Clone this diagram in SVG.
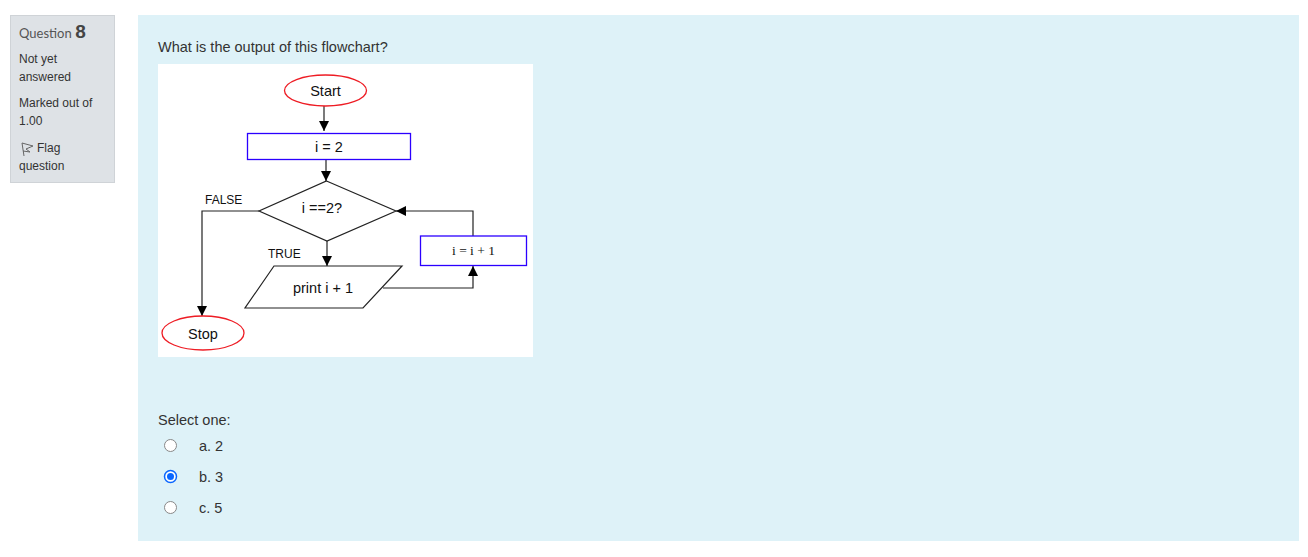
<svg xmlns="http://www.w3.org/2000/svg" width="1308" height="557" viewBox="0 0 1308 557">
<defs>
<marker id="ah" viewBox="0 0 10 10" refX="10" refY="5" markerWidth="10" markerHeight="10" markerUnits="userSpaceOnUse" orient="auto">
<path d="M0,0 L10,5 L0,10 z" fill="#000"/>
</marker>
<style>
.ui{font-family:"Liberation Sans",Arial,sans-serif;fill:#333}
.sm{font-size:12px}
.fc{font-family:"Liberation Sans",Arial,sans-serif;font-size:14.5px;fill:#111}
.lbl{font-family:"Liberation Sans",Arial,sans-serif;font-size:12px;fill:#111}
.term{fill:#fff;stroke:#ee1c24;stroke-width:1.3}
.proc{fill:#fff;stroke:#2b00ff;stroke-width:1.3}
.shape{fill:#fff;stroke:#222;stroke-width:1.2}
.conn{fill:none;stroke:#222;stroke-width:1.2}
</style>
</defs>
<rect width="1308" height="557" fill="#fff"/>
<g id="info">
<rect x="10.5" y="15.5" width="104" height="167" fill="#dee2e6" stroke="#cfd3d7"/>
<text x="19" y="38" class="ui" style="font-size:13px;fill:#555"><tspan font-family="Lato,sans-serif">Question</tspan> <tspan style="font-size:19px;font-weight:bold;fill:#444">8</tspan></text>
<text x="19" y="63" class="ui sm">Not yet</text>
<text x="19" y="81" class="ui sm">answered</text>
<text x="19" y="107" class="ui sm">Marked out of</text>
<text x="19" y="125" class="ui sm">1.00</text>
<path d="M22,143 L24,156 M22,143 L33,146 L26,149 L30,152 L23,151" fill="none" stroke="#666" stroke-width="1"/>
<text x="37" y="152" class="ui sm">Flag</text>
<text x="19" y="170" class="ui sm">question</text>
</g>
<rect x="138" y="15" width="1161" height="526" fill="#def2f8"/>
<text x="158" y="52" class="ui" style="font-size:14.5px">What is the output of this flowchart?</text>
<rect x="158" y="64" width="375" height="293" fill="#fff"/>
<g id="connectors">
<line x1="324" y1="106" x2="324" y2="131" class="conn" marker-end="url(#ah)"/>
<line x1="326" y1="160" x2="326" y2="181" class="conn" marker-end="url(#ah)"/>
<polyline points="259,211 202,211 202,316" class="conn" marker-end="url(#ah)"/>
<line x1="327" y1="241" x2="327" y2="266" class="conn" marker-end="url(#ah)"/>
<polyline points="383,288 473,288 473,266" class="conn" marker-end="url(#ah)"/>
<polyline points="473,236 473,211 396,211" class="conn" marker-end="url(#ah)"/>
<text x="205" y="204" class="lbl">FALSE</text>
<text x="268" y="258" class="lbl">TRUE</text>
</g>
<g id="start">
<ellipse cx="325.5" cy="90.5" rx="41" ry="15.5" class="term"/>
<text x="325.5" y="96" class="fc" text-anchor="middle">Start</text>
</g>
<g id="init">
<rect x="247.5" y="133.5" width="163" height="26" class="proc"/>
<text x="329" y="151.5" class="fc" text-anchor="middle">i = 2</text>
</g>
<g id="decision">
<polygon points="326.5,181 396,211 327,241 259,211" class="shape"/>
<text x="322" y="213" class="fc" text-anchor="middle">i ==2?</text>
</g>
<g id="print">
<polygon points="274,266 402,266 363,308 245,308" class="shape"/>
<text x="323" y="292.5" class="fc" text-anchor="middle">print i + 1</text>
</g>
<g id="increment">
<rect x="420.5" y="236" width="106" height="29.5" class="proc"/>
<text x="473.5" y="255" text-anchor="middle" style="font-family:'Liberation Serif',serif;font-size:13.5px;fill:#111">i = i + 1</text>
</g>
<g id="stop">
<ellipse cx="203" cy="333" rx="41" ry="17" class="term"/>
<text x="203" y="338.5" class="fc" text-anchor="middle">Stop</text>
</g>
<g id="answers">
<text x="158" y="425" class="ui" style="font-size:14.5px">Select one:</text>
<circle cx="170.5" cy="445.5" r="6" fill="#fff" stroke="#888" stroke-width="1"/>
<text x="199" y="451" class="ui" style="font-size:14.5px">a. 2</text>
<circle cx="170.5" cy="476.5" r="6" fill="#fff" stroke="#0a66ff" stroke-width="1.5"/>
<circle cx="170.5" cy="476.5" r="3.5" fill="#0a66ff"/>
<text x="199" y="482" class="ui" style="font-size:14.5px">b. 3</text>
<circle cx="170.5" cy="507.5" r="6" fill="#fff" stroke="#888" stroke-width="1"/>
<text x="199" y="513" class="ui" style="font-size:14.5px">c. 5</text>
</g>
</svg>
